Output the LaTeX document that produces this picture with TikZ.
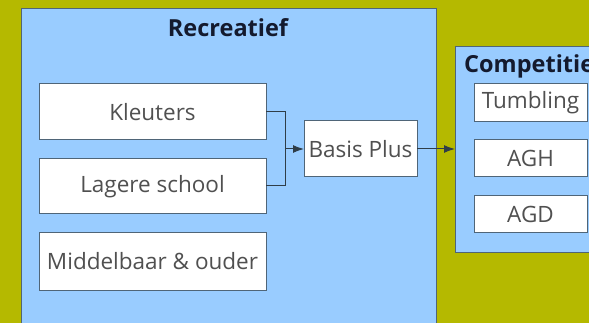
\documentclass[tikz,border=0pt]{standalone}
\usepackage{fontspec}
\setmainfont{Open Sans}
\usetikzlibrary{arrows.meta}
\definecolor{olive}{HTML}{B5B900}
\definecolor{skyb}{HTML}{99CCFF}
\definecolor{edge}{HTML}{4F6578}
\definecolor{txt}{HTML}{505050}
\definecolor{ttl}{HTML}{141A2E}
\tikzset{
  grp/.style={draw=edge, line width=1pt, fill=skyb},
  item/.style={draw=edge, line width=1pt, fill=white, text=txt, font=\fontsize{22.5}{26}\selectfont},
  ttlstyle/.style={text=ttl, font=\bfseries\fontsize{23.5}{27}\selectfont, inner sep=0pt},
  conn/.style={draw=edge!60!black, line width=1pt},
  arr/.style={conn, -{Latex[length=11pt,width=8pt]}},
}
\begin{document}
\begin{tikzpicture}[x=1pt,y=-1pt]
\useasboundingbox (0,0) rectangle (589,323);
\clip (0,0) rectangle (589,323);
\fill[olive] (0,0) rectangle (589,323);
% Recreatief group
\draw[grp] (21,9) rectangle (436,330);
\node[ttlstyle] (rt) at (228,28) {Recreatief};
\draw[item] (39,84) rectangle node (kl) {Kleuters} (266,140);
\coordinate (klR) at (266,112);
\draw[item] (39,159) rectangle node (ls) {Lagere school} (266,214);
\coordinate (lsR) at (266,186);
\draw[item] (39,233) rectangle node (mo) {Middelbaar \& ouder} (266,290);
\draw[item] (304,121) rectangle node (bp) {Basis Plus} (417,177);
\coordinate (bpL) at (304,149);
\coordinate (bpR) at (417,149);
\coordinate (j) at (285,149);
\draw[conn] (klR) -- (285,112) -- (285,186) -- (lsR);
\draw[arr] (j) -- (bpL);
% Competitie group
\draw[grp] (455,47) rectangle (600,252);
\coordinate (cpL) at (455,149);
\draw[arr] (bpR) -- (cpL);
\node[ttlstyle, anchor=west] (ct) at (464,66) {Competitie};
\draw[item] (474,84) rectangle node (tu) {Tumbling} (587,122);
\draw[item] (474,140) rectangle node (agh) {AGH} (587,177);
\draw[item] (474,196) rectangle node (agd) {AGD} (587,233);
\end{tikzpicture}
\end{document}
